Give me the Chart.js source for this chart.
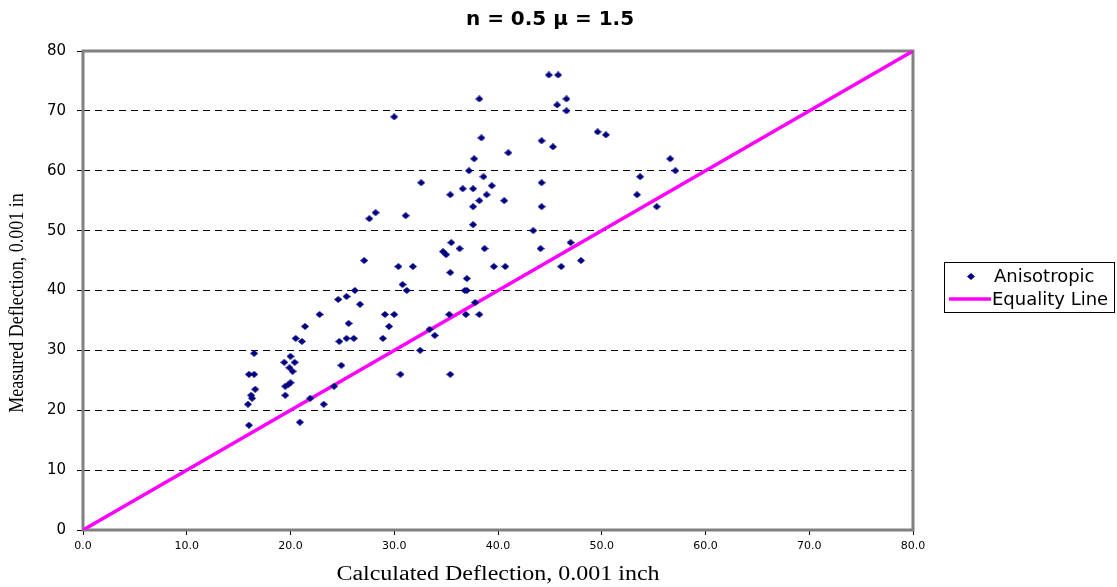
<!DOCTYPE html>
<html>
<head>
<meta charset="utf-8">
<script src="https://cdn.jsdelivr.net/npm/chart.js@4"></script>
<style>
  html, body { margin: 0; padding: 0; background: #fff; }
  #wrap { width: 1117px; height: 587px; }
</style>
</head>
<body>
<div id="wrap"><canvas id="deflChart" width="1117" height="587"></canvas></div>
<script>
// calculated vs measured deflection
const anisoX = [16.0, 15.9, 16.3, 16.2, 16.6, 16.0, 16.5, 16.5, 19.5, 19.5, 19.8, 20.0, 19.4, 19.9, 20.2, 20.0,
  20.4, 20.5, 21.1, 20.9, 21.4, 21.9, 22.8, 23.2, 24.2, 24.6, 24.7, 24.9, 25.4, 25.4, 25.6, 26.1, 26.2, 26.7,
  27.1, 27.6, 28.2, 28.9, 29.1, 29.5, 30.0, 30.0, 30.4, 30.6, 30.8, 31.1, 31.2, 31.8, 32.5, 32.6, 33.4, 33.9,
  34.7, 35.0, 35.3, 35.4, 35.4, 35.4, 35.5, 36.3, 36.6, 36.8, 37.0, 37.0, 36.9, 37.2, 37.6, 37.6, 37.6, 37.7,
  37.8, 38.2, 38.2, 38.2, 38.4, 38.6, 38.7, 38.9, 39.4, 39.6, 40.6, 40.7, 41.0, 43.4, 44.1, 44.2, 44.2, 44.2,
  44.9, 45.3, 45.7, 45.8, 46.1, 46.6, 46.6, 47.0, 48.0, 49.6, 50.4, 53.4, 53.7, 55.3, 56.6, 57.1];
const anisoY = [17.5, 21, 22, 22.5, 23.5, 26, 26, 29.5, 22.5, 24, 24.3, 24.6, 28, 27.1, 26.5, 29,
  28, 32, 31.5, 18, 34, 22, 36, 21, 24, 38.5, 31.5, 27.5, 39, 32, 34.5, 32, 40, 37.7,
  45, 52, 53, 32, 36, 34, 36, 69, 44, 26, 41, 52.5, 40, 44, 30, 58, 33.5, 32.5,
  46.5, 46, 36, 43, 56, 26, 48, 47, 57, 40, 40, 42, 36, 60, 51, 54, 57, 62,
  38, 55, 72, 36, 65.5, 59, 47, 56, 57.5, 44, 55, 44, 63, 50, 47, 54, 58, 65,
  76, 64, 71, 76, 44, 70, 72, 48, 45, 66.5, 66, 56, 59, 54, 62, 60];
const equalityX = [0, 80];
const equalityY = [0, 80];
const xTicks = [0, 10, 20, 30, 40, 50, 60, 70, 80];
const yTicks = [0, 10, 20, 30, 40, 50, 60, 70, 80];

const seriesNames = ['Anisotropic', 'Equality Line'];
const chartTitle = 'n = 0.5 \u03bc = 1.5';
const xTitle = 'Calculated Deflection, 0.001 inch';
const yTitle = 'Measured Deflection, 0.001 in';

function toPoints(xs, ys) {
  return xs.map((x, i) => ({ x: x, y: ys[i] }));
}

// the old excel marker is a slightly squashed diamond
function makeDiamond(w, h, color) {
  const c = document.createElement('canvas');
  c.width = w;
  c.height = h;
  const g = c.getContext('2d');
  g.fillStyle = color;
  g.beginPath();
  g.moveTo(w / 2, 0); g.lineTo(w, h / 2); g.lineTo(w / 2, h); g.lineTo(0, h / 2);
  g.closePath();
  g.fill();
  return c;
}
const diamond = makeDiamond(8, 7, '#000080');

// title, plot border, axis titles and boxed legend
const excelBits = {
  id: 'excelBits',
  beforeDatasetsDraw(chart) {
    const { ctx, chartArea: a } = chart;
    ctx.save();
    ctx.strokeStyle = '#808080';
    ctx.lineWidth = 3;
    ctx.strokeRect(a.left, a.top, a.right - a.left, a.bottom - a.top);
    ctx.restore();
  },
  afterDraw(chart) {
    const { ctx, chartArea: a } = chart;
    ctx.save();
    ctx.fillStyle = '#000';
    ctx.font = 'bold 20px "DejaVu Sans", sans-serif';
    ctx.textAlign = 'center';
    ctx.textBaseline = 'middle';
    ctx.fillText(chartTitle, 550, 20);

    // x axis title, stretched a little like the source
    ctx.save();
    ctx.translate((a.left + a.right) / 2, 575);
    ctx.scale(1.2, 1);
    ctx.font = '20px "Liberation Serif", "Times New Roman", serif';
    ctx.fillText(xTitle, 0, 0);
    ctx.restore();

    // y axis title
    ctx.save();
    ctx.translate(18, 303);
    ctx.rotate(-Math.PI / 2);
    ctx.scale(1, 1.15);
    ctx.font = '18px "Liberation Serif", "Times New Roman", serif';
    ctx.fillText(yTitle, 0, 0);
    ctx.restore();

    // legend
    ctx.fillStyle = '#fff';
    ctx.fillRect(944.5, 262.5, 170, 50);
    ctx.strokeStyle = '#000';
    ctx.lineWidth = 1;
    ctx.strokeRect(944.5, 262.5, 170, 50);

    ctx.drawImage(diamond, 967, 273);

    ctx.strokeStyle = '#ff00ff';
    ctx.lineWidth = 3.5;
    ctx.beginPath();
    ctx.moveTo(949, 299); ctx.lineTo(991, 299);
    ctx.stroke();

    ctx.fillStyle = '#000';
    ctx.font = '18px "DejaVu Sans", sans-serif';
    ctx.textAlign = 'left';
    ctx.fillText(seriesNames[0], 994, 277);
    ctx.fillText(seriesNames[1], 992, 300);
    ctx.restore();
  }
};

new Chart(document.getElementById('deflChart'), {
  type: 'scatter',
  data: {
    datasets: [{
      label: seriesNames[0],
      data: toPoints(anisoX, anisoY),
      pointStyle: diamond,
      pointRadius: 4,
      pointHoverRadius: 4,
      backgroundColor: '#000080',
      borderColor: '#000080',
      borderWidth: 0,
      order: 1
    }, {
      label: seriesNames[1],
      data: toPoints(equalityX, equalityY),
      showLine: true,
      pointRadius: 0,
      borderColor: '#ff00ff',
      backgroundColor: '#ff00ff',
      borderWidth: 3.5,
      order: 2
    }]
  },
  options: {
    responsive: false,
    animation: false,
    events: [],
    layout: { padding: { left: 0, right: 204, top: 51, bottom: 0 } },
    plugins: {
      legend: { display: false },
      title: { display: false },
      tooltip: { enabled: false }
    },
    scales: {
      x: {
        type: 'linear',
        min: 0,
        max: 80,
        afterBuildTicks: (scale) => { scale.ticks = xTicks.map(v => ({ value: v })); },
        afterFit: (scale) => { scale.height = 57; },
        border: { display: false },
        grid: {
          drawOnChartArea: false,
          drawTicks: true,
          tickLength: 5,
          tickColor: '#000',
          tickWidth: 1
        },
        ticks: {
          color: '#000',
          padding: 5,
          maxRotation: 0,
          font: { family: '"DejaVu Sans", sans-serif', size: 11 },
          callback: (v) => v.toFixed(1)
        },
        title: { display: false }
      },
      y: {
        type: 'linear',
        min: 0,
        max: 80,
        afterBuildTicks: (scale) => { scale.ticks = yTicks.map(v => ({ value: v })); },
        afterFit: (scale) => { scale.width = 83; },
        border: { display: false, dash: [7, 5] },
        grid: {
          color: '#000',
          lineWidth: 1,
          drawTicks: true,
          tickLength: 6,
          tickColor: '#000',
          tickBorderDash: [],
          tickWidth: 1
        },
        ticks: {
          color: '#000',
          padding: 11,
          font: { family: '"DejaVu Sans", sans-serif', size: 15 },
          callback: (v) => String(v)
        },
        title: { display: false }
      }
    }
  },
  plugins: [excelBits]
});
</script>
</body>
</html>
